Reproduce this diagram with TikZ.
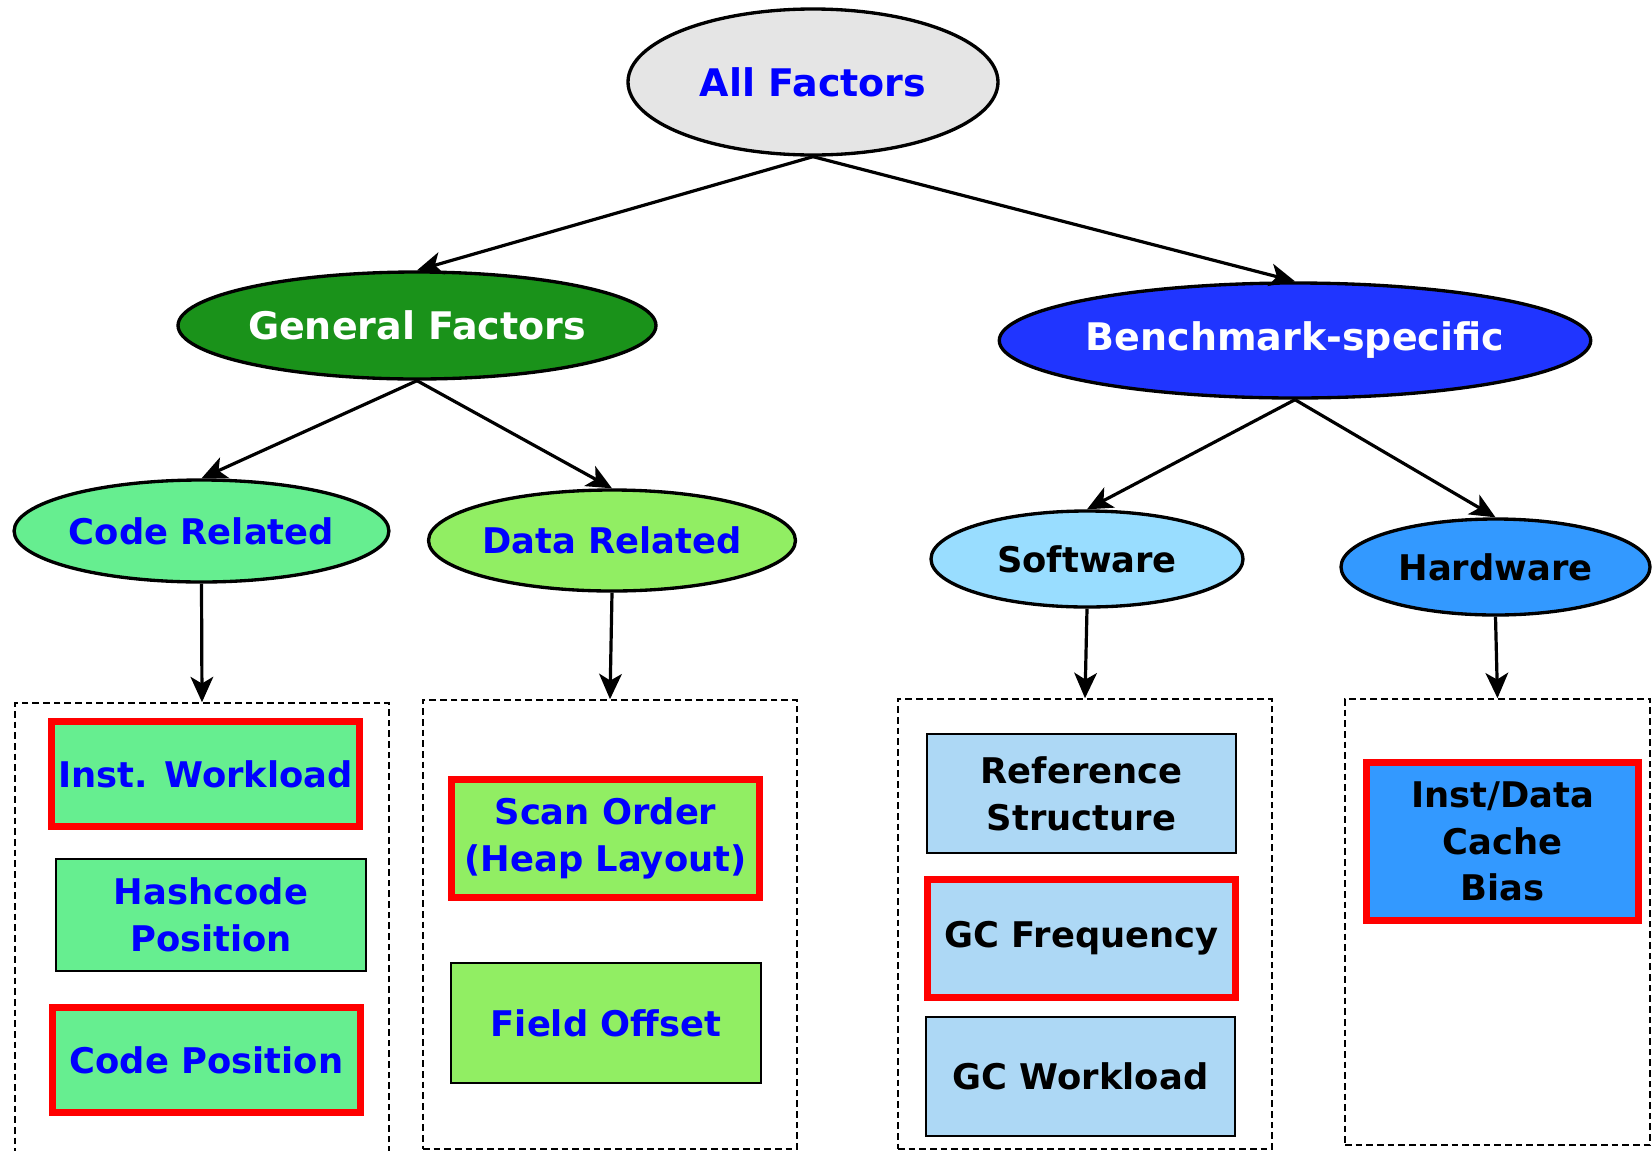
\documentclass[tikz,border=0pt]{standalone}
\usepackage{fontspec}
\setmainfont{DejaVu Sans}
\usetikzlibrary{shapes.geometric,arrows.meta}

\definecolor{allgray}{RGB}{229,229,229}
\definecolor{genfill}{RGB}{26,146,26}
\definecolor{benchfill}{RGB}{32,53,255}
\definecolor{codefill}{RGB}{102,238,144}
\definecolor{datafill}{RGB}{145,238,99}
\definecolor{softfill}{RGB}{153,221,255}
\definecolor{hardfill}{RGB}{51,153,255}
\definecolor{reffill}{RGB}{173,216,245}
\definecolor{txtblue}{RGB}{0,0,255}

\tikzset{every picture/.style={line width=0.75pt}}
\tikzset{
  boxsize/.style 2 args={minimum width=#1*0.75pt, minimum height=#2*0.75pt},
  factor/.style={ellipse, draw, line width=2.5pt, inner sep=0pt, align=center,
    font=\bfseries\fontsize{28.5}{36}\selectfont},
  subfactor/.style={factor, font=\bfseries\fontsize{26.5}{35}\selectfont},
  group/.style={draw, dashed, dash pattern=on 5pt off 3pt, line width=1.2pt, inner sep=0pt},
  item/.style={draw, line width=1.8pt, inner sep=0pt, align=center,
    font=\bfseries\fontsize{26.5}{35}\selectfont},
  hot/.style={draw=red, line width=5pt},
  link/.style={line width=2.4pt, -{Stealth[length=19pt,width=17pt,inset=5pt]}}
}

\begin{document}
\begin{tikzpicture}[x=0.75pt,y=0.75pt,yscale=-1,xscale=1]
\useasboundingbox (0,0) rectangle (1652,1150);

%Shape: Ellipse [top]
\node [factor, fill=allgray, text=txtblue, boxsize={370}{146}] (all) at (813,82) {All Factors};
%Shape: Ellipse [second row]
\node [factor, fill=genfill, text=white, boxsize={428}{107}] (gen) at (417,325.5) {General Factors};
\node [factor, fill=benchfill, text=white, boxsize={456}{115}] (bench) at (1295,340.5) {Benchmark-specific};
%Shape: Ellipse [third row]
\node [subfactor, fill=codefill, text=txtblue, boxsize={333}{102}] (code) at (201.5,531) {Code Related};
\node [subfactor, fill=datafill, text=txtblue, boxsize={328}{101}] (data) at (612,540.5) {Data Related};
\node [subfactor, fill=softfill, boxsize={312}{96}] (soft) at (1087,559) {Software};
\node [subfactor, fill=hardfill, boxsize={309}{96}] (hard) at (1495.5,567) {Hardware};

%Shape: Dashed Rectangles
\node [group, boxsize={374}{460}] (codebox) at (202,933) {};
\node [group, boxsize={374}{449}] (databox) at (610,924.5) {};
\node [group, boxsize={374}{450}] (softbox) at (1085,924) {};
\node [group, boxsize={305}{446}] (hardbox) at (1497.5,922) {};

% Text Node [code related]
\node [item, hot, fill=codefill, text=txtblue, boxsize={308}{105}] (instwl) at (205.5,774) {Inst. Workload};
\node [item, fill=codefill, text=txtblue, boxsize={310}{112}] (hashpos) at (211,915) {Hashcode\\Position};
\node [item, hot, fill=codefill, text=txtblue, boxsize={308}{105}] (codepos) at (206.5,1060) {Code Position};
% Text Node [data related]
\node [item, hot, fill=datafill, text=txtblue, boxsize={308}{118}] (scan) at (605.5,838.5) {Scan Order\\(Heap Layout)};
\node [item, fill=datafill, text=txtblue, boxsize={310}{120}] (field) at (606,1023) {Field Offset};
% Text Node [software]
\node [item, fill=reffill, boxsize={309}{119}] (refstr) at (1081.5,793.5) {Reference\\Structure};
\node [item, hot, fill=reffill, boxsize={308}{118}] (gcfreq) at (1081.5,938.5) {GC Frequency};
\node [item, fill=reffill, boxsize={309}{119}] (gcwl) at (1080.5,1076.5) {GC Workload};
% Text Node [hardware]
\node [item, hot, fill=hardfill, boxsize={272}{158}] (cache) at (1502.5,841.5) {Inst/Data\\Cache\\Bias};

%Straight Lines
\draw [link] (all.south) -- (gen.north);
\draw [link] (all.south) -- (bench.north);
\draw [link] (gen.south) -- (code.north);
\draw [link] (gen.south) -- (data.north);
\draw [link] (bench.south) -- (soft.north);
\draw [link] (bench.south) -- (hard.north);
\draw [link] (code.south) -- (codebox.north);
\draw [link] (data.south) -- (databox.north);
\draw [link] (soft.south) -- (softbox.north);
\draw [link] (hard.south) -- (hardbox.north);

\end{tikzpicture}
\end{document}
